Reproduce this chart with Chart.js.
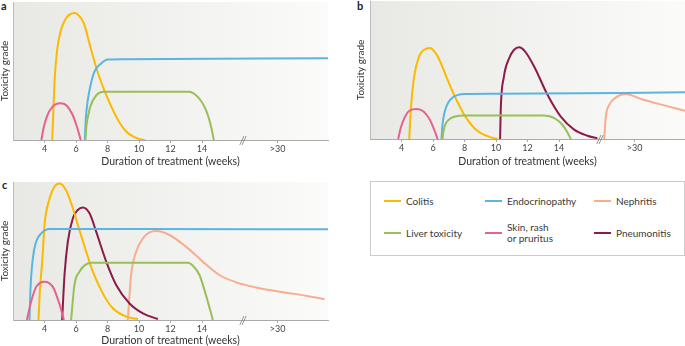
<!DOCTYPE html>
<html>
<head>
<meta charset="utf-8">
<script src="https://cdn.jsdelivr.net/npm/chart.js@4.4.1/dist/chart.umd.min.js"></script>
<style>
  body { margin: 0; background: #fff; width: 685px; height: 346px; position: relative; overflow: hidden; font-family: Lato, sans-serif; color: #333; }
  .panel { position: absolute; }
  .tag { position: absolute; font-weight: bold; font-size: 11px; line-height: 11px; color: #222; }
  #legend { position: absolute; left: 370px; top: 181px; width: 313px; height: 73px; border: 1px solid #ccc; }
  .item { position: absolute; font-size: 10px; line-height: 11px; white-space: pre-line; color: #3a3a3a; }
  .swatch { position: absolute; width: 17px; height: 2px; }
</style>
</head>
<body>
<div class="tag" style="left:1px;top:0px">a</div>
<div class="tag" style="left:357px;top:0px">b</div>
<div class="tag" style="left:2px;top:179px">c</div>
<canvas id="chartA" class="panel" width="330" height="170" style="left:0;top:0"></canvas>
<canvas id="chartB" class="panel" width="345" height="170" style="left:340px;top:0"></canvas>
<canvas id="chartC" class="panel" width="330" height="176" style="left:0;top:170px"></canvas>
<div id="legend"></div>
<script>
// x axis (weeks) - the part after the break stands for >30 weeks
const tickValues = [4, 6, 8, 10, 12, 14, 18.8];
const tickLabels = ['4', '6', '8', '10', '12', '14', '>30'];
const breakAt = 16.6;

const seriesKeys = ['colitis', 'endo', 'nephritis', 'liver', 'skin', 'pneumo'];
const seriesNames = ['Colitis', 'Endocrinopathy', 'Nephritis', 'Liver toxicity', 'Skin, rash\nor pruritus', 'Pneumonitis'];

// panel a  [week, grade]
const aColitis = [[4.49,0],[4.56,20],[4.65,45],[4.8,65],[5.0,78],[5.3,87],[5.6,91],[5.9,92],[6.2,90],[6.5,84.5],[6.9,68],[7.3,52],[7.55,43.5],[8.05,29],[8.5,18],[8.8,12],[9.2,6],[9.65,2.4],[10.0,0.8],[10.4,0]];
const aSkin = [[3.8,0],[3.95,9],[4.15,17],[4.5,24],[5.0,26.6],[5.4,25],[5.75,19],[6.05,10],[6.3,0]];
const aEndo = [[6.56,0],[6.62,15],[6.75,29],[6.95,41],[7.17,49.5],[7.6,55.5],[8.0,58.3],[9,58.6],[22,59.3]];
const aLiver = [[6.6,0],[6.66,10],[6.8,19],[6.9,24],[7.3,32.6],[7.75,35],[13.2,35],[13.5,33.5],[13.9,29],[14.2,23],[14.4,17],[14.6,8.5],[14.75,0]];

// panel b
const bColitis = [[4.49,0],[4.59,21],[4.8,45],[5.12,60],[5.44,64.7],[5.82,66],[6.18,62],[6.5,55],[6.92,43],[7.34,32],[7.98,17.6],[8.61,8],[9.04,4.3],[9.67,1.2],[10.1,0]];
const bSkin = [[3.79,0],[3.95,8],[4.2,15.5],[4.5,20.5],[4.97,21.7],[5.4,20],[5.8,14],[6.1,6],[6.29,0]];
const bEndo = [[6.54,0],[6.6,10],[6.75,20],[7.0,27],[7.3,30.5],[7.6,32],[8.0,32.6],[10,32.8],[22,33.8]];
const bLiver = [[6.6,0],[6.67,6],[6.8,11],[7.0,14],[7.4,16.3],[8.0,17.1],[13.0,17.1],[13.4,16.5],[13.8,14.5],[14.2,10.5],[14.5,5.5],[14.75,0]];
const bPneumo = [[10.26,0],[10.3,21],[10.5,45],[10.84,58.7],[11.15,64.7],[11.47,66.4],[11.8,64],[12.42,52.6],[13.27,32],[14.1,16.4],[14.96,6.8],[15.8,2.4],[16.44,0.5]];
const bNephritis = [[16.87,0],[16.97,16],[17.2,25],[17.6,30],[18.24,32.6],[19.2,29],[20.5,24.9],[22,20.5]];

// panel c
const cColitis = [[3.62,0],[3.7,20],[3.87,44.7],[4.0,68.8],[4.32,88],[4.63,96.6],[4.95,99],[5.37,94],[5.8,81],[6.22,65],[6.65,49.5],[7.07,35],[7.7,19.3],[8.34,8.5],[9.19,2.4],[9.93,0.7]];
const cSkin = [[2.88,0],[3.15,13.3],[3.47,24],[4.0,27.8],[4.53,24],[4.95,11.6],[5.23,0]];
const cEndo = [[3.05,0],[3.1,20],[3.26,44.7],[3.47,56.7],[3.79,62.8],[4.32,66],[10,66],[22,65.7]];
const cPneumo = [[5.12,0],[5.27,32.6],[5.48,56.7],[5.8,73.7],[6.11,79.7],[6.43,81.6],[6.86,77.3],[7.28,64],[7.92,42.3],[8.55,25.4],[9.4,12],[10.25,4.8],[11.2,0.7]];
const cLiver = [[5.69,0],[5.9,25.4],[6.22,35],[6.53,39.4],[6.95,41.5],[13.1,41.5],[13.45,39],[13.84,32.6],[14.37,13.3],[14.69,0]];
const cNephritis = [[9.29,0],[9.5,32.6],[9.82,49.5],[10.25,59.2],[10.67,63.5],[11.1,64.5],[11.94,61.6],[13.0,53],[14.05,42.3],[15.1,32.6],[16.17,27.3],[17.65,23],[19.35,19.8],[20.6,17.6],[21.78,15]];

const colors = {
    colitis: '#fbb900',
    endo: '#5ab5e1',
    nephritis: '#f8ad91',
    liver: '#98bf58',
    skin: '#e5628c',
    pneumo: '#8c1a4b'
};

Chart.defaults.font.family = 'Lato, sans-serif';
Chart.defaults.color = '#333';

const panelBackground = {
    id: 'panelBackground',
    beforeDraw(chart) {
        const { ctx, chartArea: a } = chart;
        const g = ctx.createLinearGradient(a.left, 0, a.right, 0);
        g.addColorStop(0, '#e8e8e4');
        g.addColorStop(1, '#fbfbfa');
        ctx.save();
        ctx.fillStyle = g;
        ctx.fillRect(a.left, a.top, a.right - a.left, a.bottom - a.top);
        ctx.restore();
    }
};

const axisBreak = {
    id: 'axisBreak',
    afterDraw(chart) {
        const { ctx, chartArea: a } = chart;
        const x = chart.scales.x.getPixelForValue(breakAt);
        ctx.save();
        ctx.font = 'italic 11px Lato, sans-serif';
        ctx.fillStyle = '#777';
        ctx.textAlign = 'center';
        ctx.textBaseline = 'middle';
        ctx.fillText('//', x, a.bottom);
        ctx.restore();
    }
};

function makePanel(id, series, box) {
    const datasets = series.map(s => ({
        label: s.key,
        data: s.points.map(p => ({ x: p[0], y: p[1] })),
        borderColor: colors[s.key],
        borderWidth: 2,
        pointRadius: 0,
        fill: false,
        cubicInterpolationMode: 'monotone'
    }));

    new Chart(document.getElementById(id), {
        type: 'line',
        data: { datasets: datasets },
        plugins: [panelBackground, axisBreak],
        options: {
            responsive: false,
            animation: false,
            devicePixelRatio: 1,
            layout: { padding: { left: box.padLeft, top: box.padTop, right: box.padRight, bottom: 0 } },
            plugins: { legend: { display: false }, tooltip: { enabled: false } },
            scales: {
                x: {
                    type: 'linear',
                    min: 2,
                    max: 22,
                    afterBuildTicks: scale => { scale.ticks = tickValues.map(v => ({ value: v })); },
                    afterFit: scale => { scale.height = box.xHeight; },
                    ticks: {
                        callback: (value, index) => tickLabels[index],
                        font: { size: 9 },
                        color: '#444',
                        padding: 1,
                        maxRotation: 0,
                        autoSkip: false
                    },
                    grid: { drawOnChartArea: false, drawTicks: true, tickLength: 3, color: '#aaa' },
                    border: { display: true, color: '#aaa' },
                    title: {
                        display: true,
                        text: 'Duration of treatment (weeks)',
                        font: { size: 10.5, lineHeight: 1 },
                        color: '#333',
                        padding: { top: 0, bottom: box.titlePad }
                    }
                },
                y: {
                    min: 0,
                    max: 100,
                    afterFit: scale => { scale.width = box.yWidth; },
                    ticks: { display: false },
                    grid: { display: false },
                    border: { display: true, color: '#bbb' },
                    title: {
                        display: true,
                        text: 'Toxicity grade',
                        font: { size: 10, lineHeight: 1 },
                        color: '#333',
                        padding: 0
                    }
                }
            }
        }
    });
}

makePanel('chartA', [
    { key: 'skin', points: aSkin },
    { key: 'liver', points: aLiver },
    { key: 'endo', points: aEndo },
    { key: 'colitis', points: aColitis }
], { padLeft: 0, padTop: 2, padRight: 2, yWidth: 13, xHeight: 30, titlePad: 3 });

makePanel('chartB', [
    { key: 'skin', points: bSkin },
    { key: 'liver', points: bLiver },
    { key: 'endo', points: bEndo },
    { key: 'colitis', points: bColitis },
    { key: 'pneumo', points: bPneumo },
    { key: 'nephritis', points: bNephritis }
], { padLeft: 16, padTop: 1, padRight: 0, yWidth: 14, xHeight: 31, titlePad: 3 });

makePanel('chartC', [
    { key: 'skin', points: cSkin },
    { key: 'liver', points: cLiver },
    { key: 'endo', points: cEndo },
    { key: 'colitis', points: cColitis },
    { key: 'pneumo', points: cPneumo },
    { key: 'nephritis', points: cNephritis }
], { padLeft: 0, padTop: 12, padRight: 2, yWidth: 13, xHeight: 26, titlePad: 0 });

// legend box
const legend = document.getElementById('legend');
const legendCols = [13, 114, 223];
const legendRows = [19, 51];
seriesKeys.forEach((key, i) => {
    const left = legendCols[i % 3];
    const top = legendRows[Math.floor(i / 3)];

    const swatch = document.createElement('div');
    swatch.className = 'swatch';
    swatch.style.left = left + 'px';
    swatch.style.top = (top - 1) + 'px';
    swatch.style.background = colors[key];
    legend.appendChild(swatch);

    const label = document.createElement('div');
    label.className = 'item';
    label.textContent = seriesNames[i];
    label.style.left = (left + 22) + 'px';
    const lines = seriesNames[i].split('\n').length;
    label.style.top = (top - lines * 11 / 2) + 'px';
    legend.appendChild(label);
});
</script>
</body>
</html>
